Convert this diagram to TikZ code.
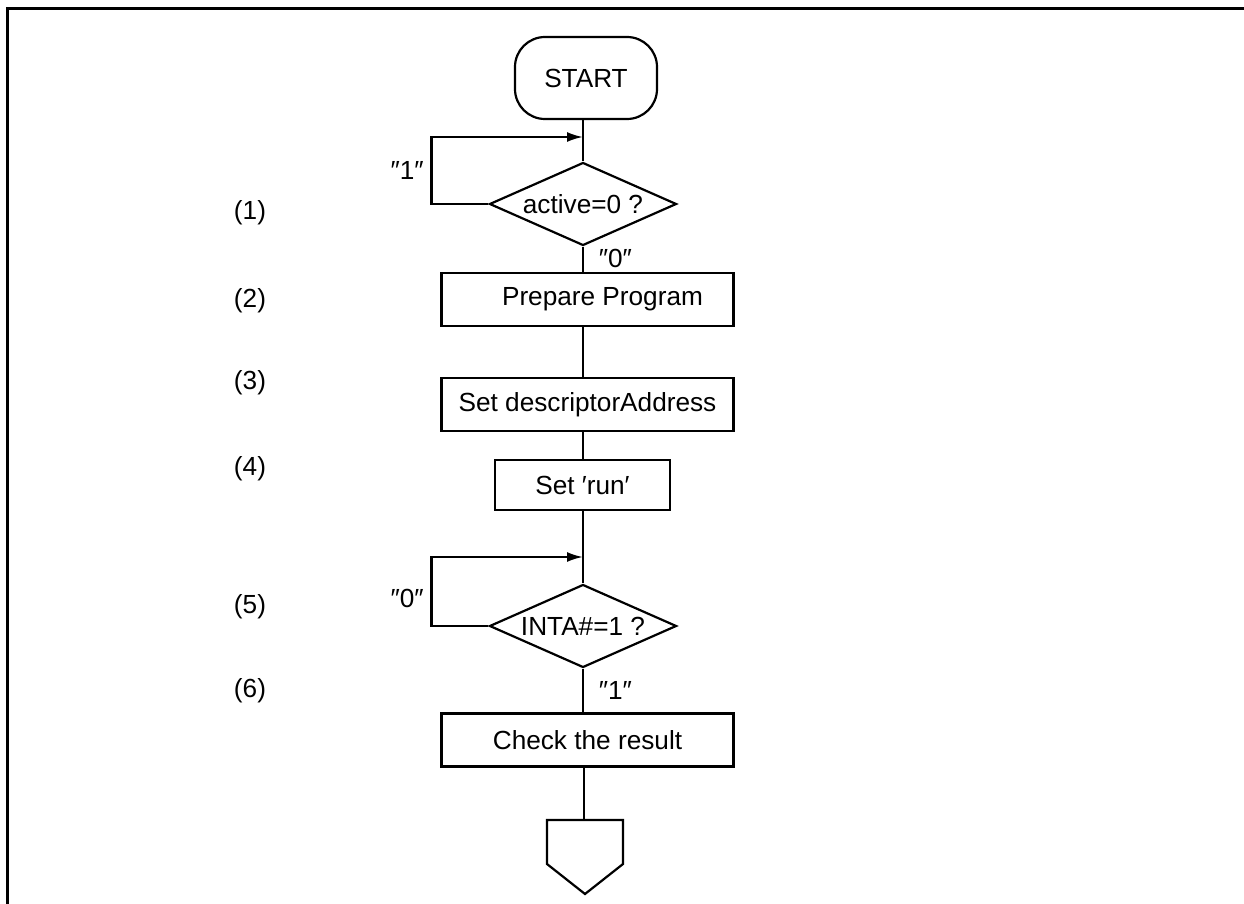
\documentclass[tikz,border=0pt]{standalone}
\usepackage{fontspec}
\setmainfont{Liberation Sans}
\usepackage{tikz}
\usetikzlibrary{arrows.meta,calc,positioning,shapes.geometric}

\begin{document}
\begin{tikzpicture}[x=0.5pt,y=-0.5pt,>={Latex[length=8pt,width=5pt]},
  font=\fontsize{13.1}{15}\selectfont,line width=1.1pt]
\tikzstyle{box}=[draw,rectangle,minimum width=146pt,minimum height=26.5pt,inner sep=0pt]
\tikzstyle{term}=[draw,rectangle,rounded corners=15pt,minimum width=71pt,minimum height=41pt]
\tikzstyle{test}=[draw,diamond,aspect=2.25,inner sep=0pt,minimum width=93.5pt,minimum height=41.5pt]
\tikzstyle{stepno}=[inner sep=0pt]
\useasboundingbox (0,0) rectangle (1244,904);
% frame
\draw[line width=1.5pt] (7,904) -- (7,9) -- (1244,9);
% flow
\node[term] (start) at (586,78) {START};
\node[test] (d1) at (583,204) {active=0 ?};
\node[box] (prep) at (587.5,299.5) {\hspace*{15pt}Prepare Program};
\node[box] (desc) at (587.5,404.5) {Set descriptorAddress};
\node[box,minimum width=87.5pt,minimum height=25pt] (run) at (582.5,485) {Set ′run′};
\node[test] (d2) at (583,626) {INTA\#=1 ?};
\node[box] (chk) at (587.5,740) {Check the result};
\coordinate (m1) at (583,137);
\coordinate (m2) at (583,557);
\coordinate (off) at (584,820);
\draw (off) -- (623,820) -- (623,864) -- (585,894) -- (547,864) -- (547,820) -- cycle;
% step numbers
\node[stepno] (n1) at (250,213) {(1)};
\node[stepno] (n2) at (250,301) {(2)};
\node[stepno] (n3) at (250,383) {(3)};
\node[stepno] (n4) at (250,469) {(4)};
\node[stepno] (n5) at (250,607) {(5)};
\node[stepno] (n6) at (250,691) {(6)};
% connectors
\draw (m1 |- start.south) -- (d1.north);
\draw[->] (d1.west) -- ++(-57,0) |- node[pos=0.25,left] {″1″} (m1);
\draw (d1.south) -- node[pos=0.45,right=4pt] {″0″} (d1.south |- prep.north);
\draw (d1.south |- prep.south) -- (d1.south |- desc.north);
\draw (d1.south |- desc.south) -- (d1.south |- run.north);
\draw (d1.south |- run.south) -- (d2.north);
\draw[->] (d2.west) -- ++(-57,0) |- node[pos=0.2,left] {″0″} (m2);
\draw (d2.south) -- node[pos=0.5,right=4pt] {″1″} (d2.south |- chk.north);
\draw (off |- chk.south) -- (off);
\end{tikzpicture}
\end{document}
